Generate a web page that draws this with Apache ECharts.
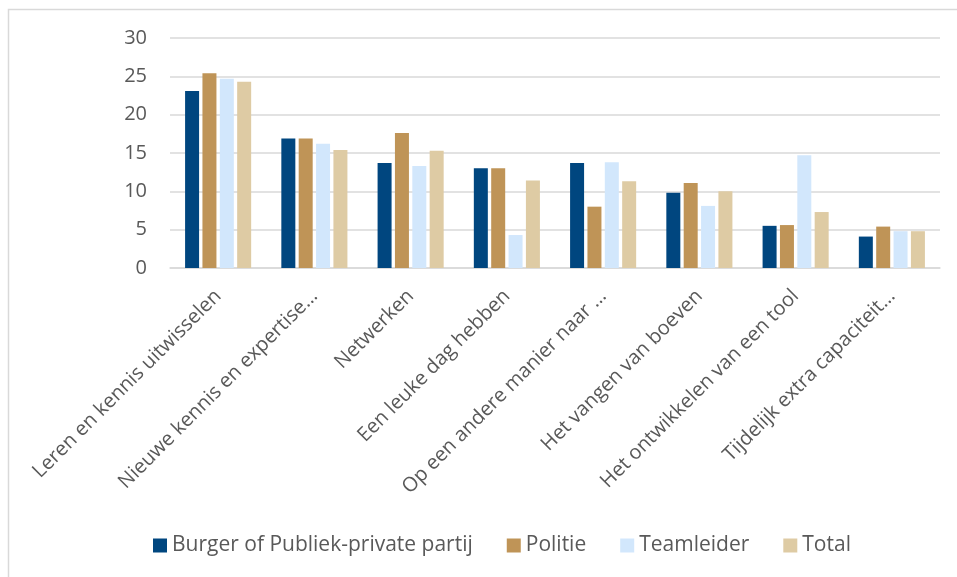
<!DOCTYPE html>
<html>
<head>
<meta charset="utf-8">
<script src="https://cdn.jsdelivr.net/npm/echarts@6/dist/echarts.min.js"></script>
<style>html,body{margin:0;padding:0;background:#fff}#c{width:957px;height:577px}</style>
</head>
<body>
<div id="c"></div>
<script>
const categories = [
  'Leren en kennis uitwisselen',
  'Nieuwe kennis en expertise…',
  'Netwerken',
  'Een leuke dag hebben',
  'Op een andere manier naar …',
  'Het vangen van boeven',
  'Het ontwikkelen van een tool',
  'Tijdelijk extra capaciteit…'
];
const seriesNames = ['Burger of Publiek-private partij', 'Politie', 'Teamleider', 'Total'];
const burger = [23.1, 16.9, 13.7, 13.0, 13.7, 9.8, 5.5, 4.1];
const politie = [25.4, 16.9, 17.6, 13.0, 8.0, 11.1, 5.6, 5.4];
const teamleider = [24.7, 16.2, 13.3, 4.3, 13.8, 8.1, 14.7, 4.8];
const total = [24.3, 15.4, 15.3, 11.4, 11.3, 10.0, 7.3, 4.8];
const yTicks = [0, 5, 10, 15, 20, 25, 30];
const colors = ['#00467F', '#BF9457', '#D2E7FC', '#DECBA4'];

const values = [burger, politie, teamleider, total];
const font = '"Open Sans", Calibri, sans-serif';
const chart = echarts.init(document.getElementById('c'), null, {renderer: 'canvas'});
chart.setOption({
  animation: false,
  backgroundColor: '#fff',
  graphic: [{
    type: 'rect', silent: true,
    shape: {x: 8.5, y: 9.5, width: 1000, height: 700},
    style: {fill: 'none', stroke: '#d9d9d9', lineWidth: 1.5}
  }],
  grid: {left: 170, right: 17, top: 38, bottom: 309, containLabel: false},
  legend: {
    data: seriesNames,
    bottom: 16,
    left: 148,
    itemWidth: 14, itemHeight: 14, itemGap: 34,
    icon: 'rect',
    textStyle: {color: '#595959', fontSize: 21, fontFamily: font}
  },
  xAxis: {
    type: 'category',
    data: categories,
    axisLine: {show: true, lineStyle: {color: '#d9d9d9', width: 1.5}},
    axisTick: {show: false},
    axisLabel: {rotate: 45, interval: 0, margin: 25, color: '#595959', fontSize: 20, fontFamily: font}
  },
  yAxis: {
    type: 'value',
    min: yTicks[0], max: yTicks[yTicks.length - 1], interval: 5,
    axisLine: {show: false},
    axisTick: {show: false},
    splitLine: {lineStyle: {color: '#d9d9d9', width: 1.5}},
    axisLabel: {margin: 23, color: '#595959', fontSize: 20, fontFamily: font}
  },
  series: seriesNames.map((n, i) => ({
    name: n,
    type: 'bar',
    data: values[i],
    barWidth: 14,
    barGap: '24%',
    itemStyle: {color: colors[i]}
  }))
});
</script>
</body>
</html>
